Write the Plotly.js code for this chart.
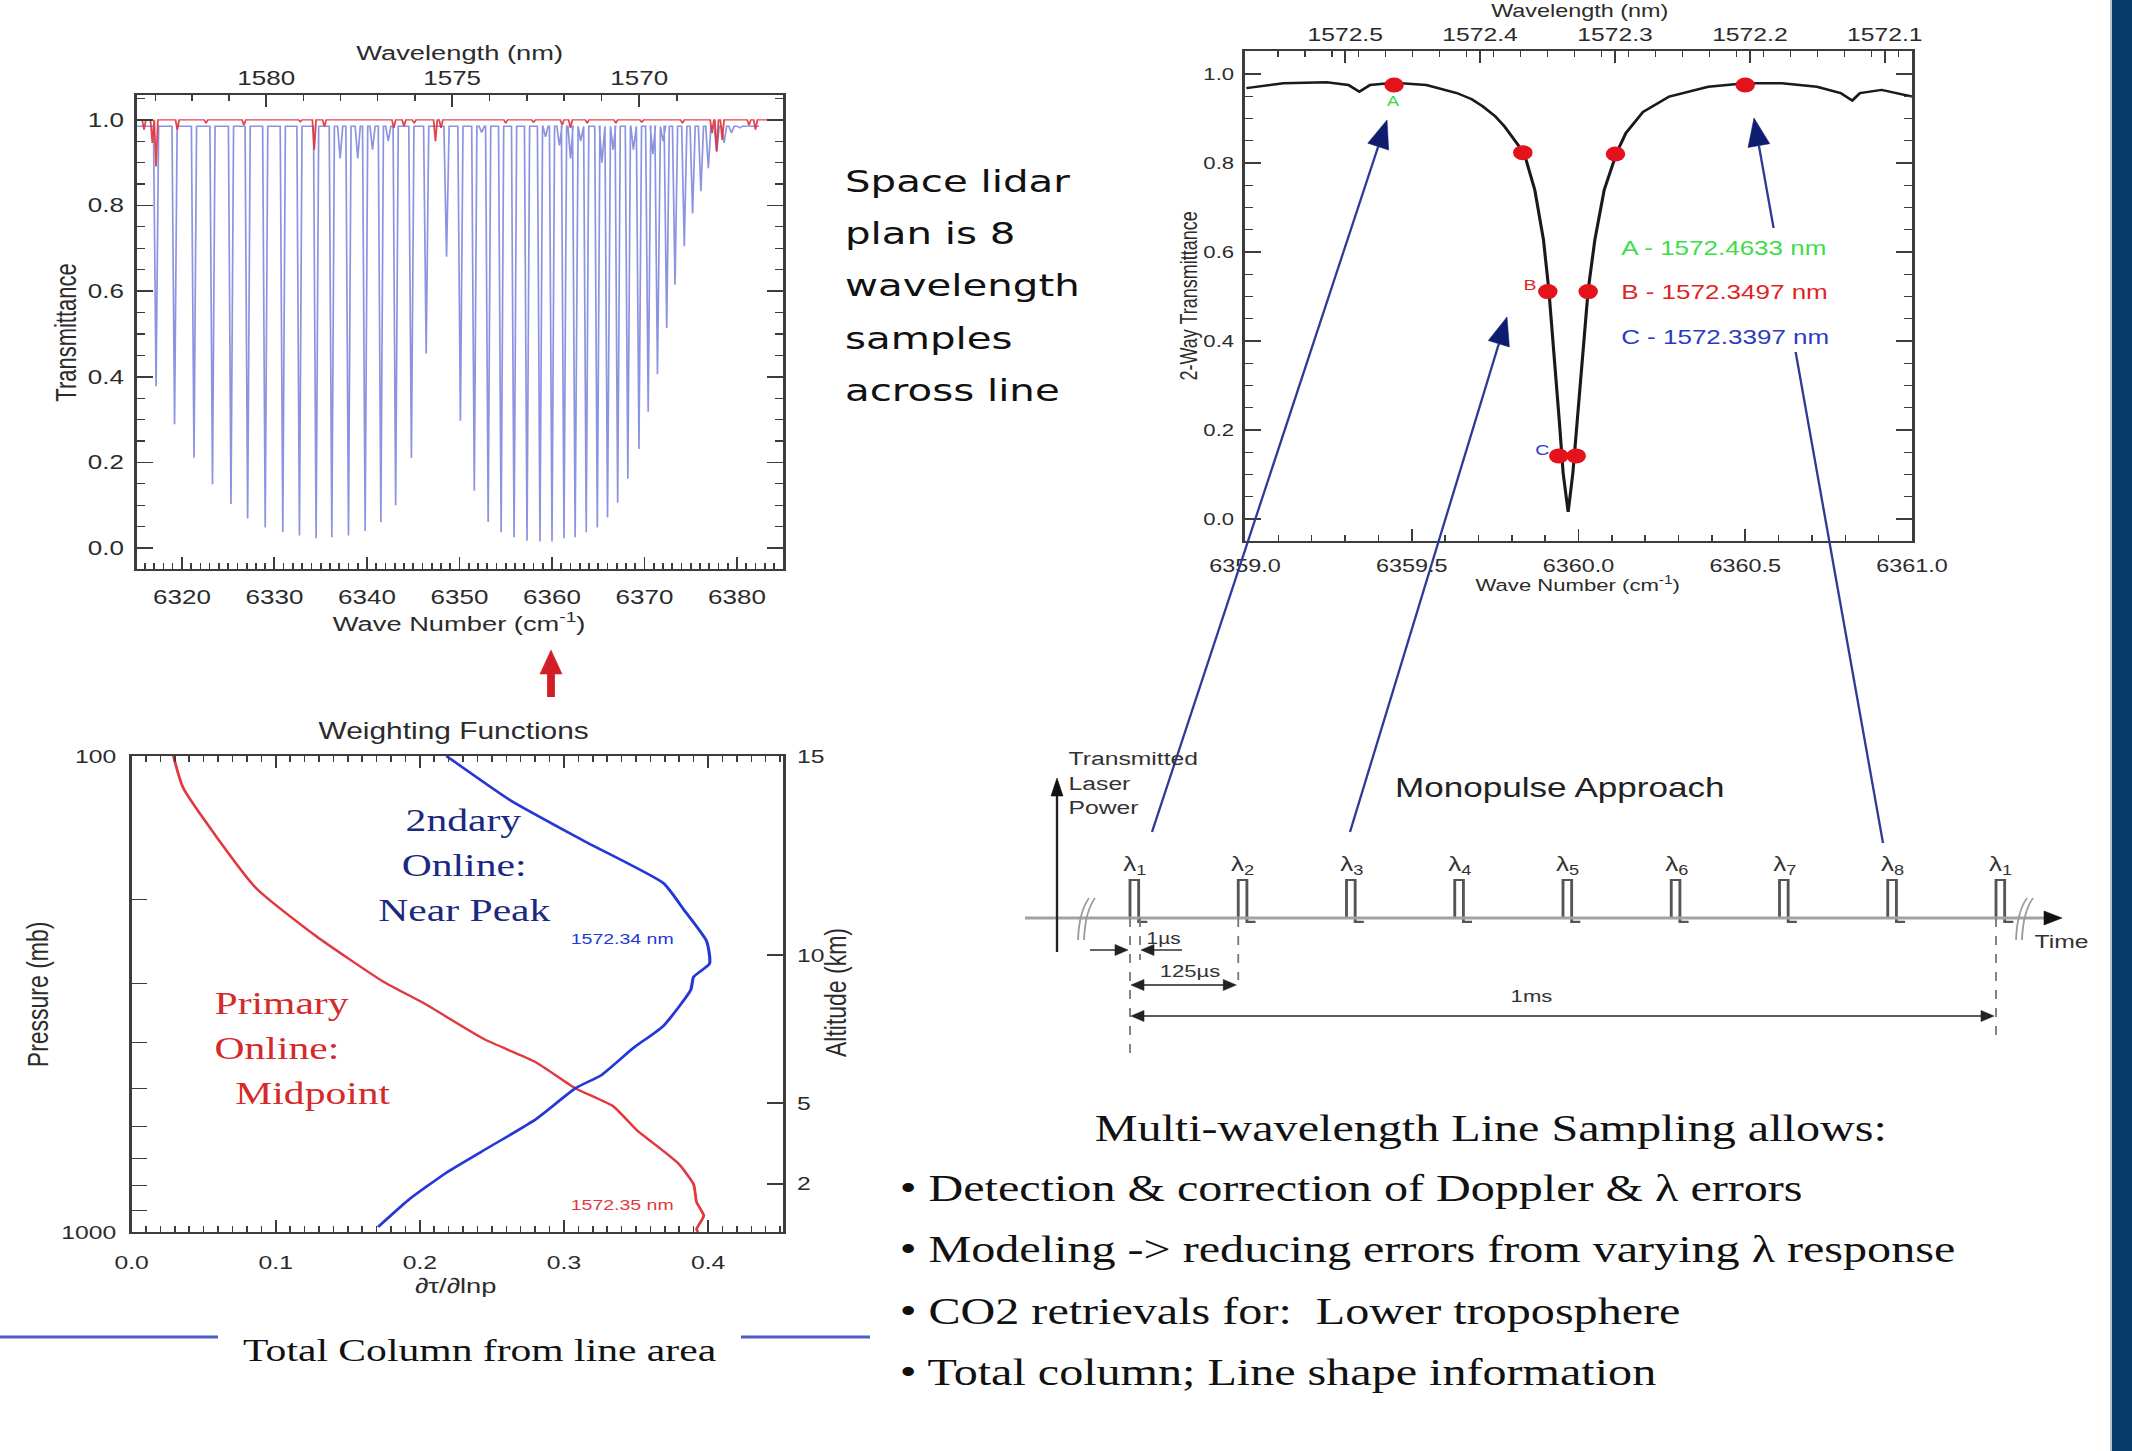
<!DOCTYPE html>
<html><head><meta charset="utf-8">
<script src="https://cdn.plot.ly/plotly-3.0.1.min.js"></script>
<style>
html,body{margin:0;padding:0;background:#fff;overflow:hidden;width:2132px;height:1451px;}
#wrap{position:absolute;left:0;top:0;width:1640px;height:1451px;transform:scaleX(1.3);transform-origin:0 0;}
#plot{width:1640px;height:1451px;}
</style></head>
<body><div id="wrap"><div id="plot"></div></div>
<script>
// ---------------- DATA ----------------
// Top-left: CO2 band transmittance (line centres in cm-1, line-centre transmittance)
const co2LineCenters = [6317.2, 6319.2, 6321.3, 6323.3, 6325.3, 6327.1, 6329.0, 6330.9, 6332.7, 6334.5,
  6336.2, 6338.0, 6339.8, 6341.5, 6343.1, 6344.8, 6346.4, 6348.6, 6350.1, 6351.6, 6353.1, 6354.5,
  6355.9, 6357.3, 6358.7, 6360.0, 6361.3, 6362.5, 6363.7, 6364.9, 6366.0, 6367.1, 6368.2, 6369.4,
  6370.4, 6371.4, 6372.4, 6373.3, 6374.3, 6375.2, 6376.1, 6376.9, 6377.8, 6378.6, 6379.4, 6380.3, 6381.2];
const co2LineMins = [0.378, 0.289, 0.211, 0.149, 0.103, 0.069, 0.048, 0.037, 0.029, 0.023,
  0.025, 0.029, 0.040, 0.060, 0.100, 0.210, 0.454, 0.680, 0.297, 0.134, 0.061, 0.037,
  0.025, 0.017, 0.015, 0.015, 0.023, 0.025, 0.037, 0.048, 0.071, 0.106, 0.162, 0.231,
  0.318, 0.406, 0.514, 0.615, 0.705, 0.781, 0.833, 0.887, 0.926, 0.946, 0.969, 0.981, 0.986];
const weakLineCenters = [6337.1, 6339.0, 6340.6, 6342.3, 6352.4, 6359.3, 6360.8, 6362.0, 6363.1, 6365.4, 6366.6, 6368.8, 6370.9, 6372.0];
const weakLineMins    = [0.91, 0.91, 0.93, 0.95, 0.97, 0.96, 0.94, 0.91, 0.95, 0.90, 0.93, 0.93, 0.92, 0.95];
const h2oLineCenters = [6315.9, 6316.8, 6317.2, 6319.5, 6322.6, 6326.7, 6332.8, 6334.3, 6335.4, 6342.9, 6344.0, 6345.1,
  6347.4, 6348.0, 6355.0, 6358.0, 6361.1, 6362.0, 6363.8, 6366.9, 6369.7, 6374.1, 6377.3, 6377.8, 6378.4, 6381.3, 6382.0];
const h2oLineMins = [0.977, 0.946, 0.891, 0.977, 0.992, 0.988, 0.996, 0.930, 0.984, 0.981, 0.985, 0.992,
  0.950, 0.981, 0.992, 0.994, 0.988, 0.981, 0.992, 0.992, 0.994, 0.992, 0.969, 0.926, 0.953, 0.988, 0.977];
const wideWavelengthTicks = [1580, 1575, 1570];

// Top-right: single line profile
const lineWn = [6359.004, 6359.115, 6359.245, 6359.310, 6359.343, 6359.375, 6359.447, 6359.544, 6359.635, 6359.680,
  6359.713, 6359.750, 6359.778, 6359.817, 6359.837, 6359.869, 6359.895, 6359.911, 6359.928, 6359.943, 6359.954, 6359.969,
  6359.983, 6359.996, 6360.012, 6360.029, 6360.049, 6360.077, 6360.114, 6360.142, 6360.194, 6360.272, 6360.389,
  6360.500, 6360.610, 6360.715, 6360.786, 6360.821, 6360.844, 6360.909, 6361.000];
const lineT = [0.968, 0.979, 0.981, 0.975, 0.960, 0.975, 0.980, 0.975, 0.957, 0.943,
  0.927, 0.905, 0.882, 0.844, 0.822, 0.739, 0.627, 0.515, 0.365, 0.215, 0.103, 0.016,
  0.103, 0.215, 0.365, 0.515, 0.627, 0.739, 0.822, 0.867, 0.915, 0.949, 0.971,
  0.979, 0.979, 0.971, 0.957, 0.940, 0.957, 0.964, 0.949];
const sampleWn = [6359.447, 6359.833, 6359.908, 6359.941, 6359.993, 6360.029, 6360.111, 6360.500];
const sampleT  = [0.975, 0.823, 0.511, 0.142, 0.142, 0.511, 0.820, 0.975];
const narrowWavelengthTicks = [1572.5, 1572.4, 1572.3, 1572.2, 1572.1];
const sampleNames = ['A', 'B', 'C'];
const sampleWavelengths = ['1572.4633', '1572.3497', '1572.3397'];

// Bottom-left: weighting functions
const primaryX = [0.029, 0.036, 0.086, 0.128, 0.174, 0.203, 0.245, 0.280, 0.308, 0.334, 0.351, 0.369, 0.380, 0.390, 0.392, 0.397, 0.392, 0.393];
const primaryP = [100, 117, 189, 239, 297, 331, 394, 439, 499, 544, 613, 676, 721, 794, 865, 924, 986, 1000];
const secondaryX = [0.2185, 0.263, 0.316, 0.369, 0.383, 0.399, 0.401, 0.390, 0.388, 0.369, 0.348, 0.326, 0.308, 0.280, 0.249, 0.218, 0.192, 0.171];
const secondaryP = [100, 124, 152, 185, 210, 245, 273, 291, 310, 369, 411, 468, 499, 581, 661, 752, 857, 976];
const pressureLabelled = [100, 1000];
const pressureMinor = [200, 300, 400, 500, 600, 700, 800, 900];
const altitudeKm = [15, 10, 5, 2];
const altitudePressure = [100, 262, 536, 792];

// Bottom-right: monopulse timing
const pulseTimesUs = [0, 125, 250, 375, 500, 625, 750, 875, 1000];
const pulseWavelengthIndex = [1, 2, 3, 4, 5, 6, 7, 8, 1];

const bulletHeading = 'Multi-wavelength Line Sampling allows:';
const bullets = ['Detection &amp; correction of Doppler &amp; λ errors',
  'Modeling -&gt; reducing errors from varying λ response',
  'CO2 retrievals for:  Lower troposphere',
  'Total column; Line shape information'];
const lidarNote = ['Space lidar', 'plan is 8', 'wavelength', 'samples', 'across line'];

// ---------------- GEOMETRY / STYLE ----------------
const W = 2132, H = 1451;
const X = px => px / W;
const Y = py => 1 - py / H;
const SANS = 'Liberation Sans, Arial, sans-serif';
const SERIF = 'Liberation Serif, Times New Roman, serif';
const COMIC = 'Comic Sans MS, DejaVu Sans, sans-serif';
const AXC = '#3c3c3c';
const TXT = '#2b2b2b';
const NAVY = '#2e3b95', NAVYHEAD = '#0f1d6e';

function ax(o) {
  const base = {showline: true, linecolor: AXC, linewidth: 2, ticks: 'inside', ticklen: 12, tickwidth: 1.5,
    tickcolor: AXC, showgrid: false, zeroline: false, fixedrange: true,
    tickfont: {family: SANS, size: 20, color: TXT}};
  return Object.assign(base, o);
}
function minor(o) { return Object.assign({ticks: 'inside', ticklen: 6, tickwidth: 1.2, tickcolor: AXC}, o); }

function buildSpectrum(centers, mins, base, halfW, x0, x1) {
  const pts = centers.map((c, i) => [c, mins[i]]).sort((a, b) => a[0] - b[0]);
  const xs = [x0], ys = [base];
  pts.forEach(([c, m]) => { xs.push(c - halfW, c, c + halfW); ys.push(base, m, base); });
  xs.push(x1); ys.push(base);
  return {xs, ys};
}

// ranges from calibration
const R1x = [6315.14, 6384.97], R1y = [-0.049, 1.058];
const R3x = [6359, 6361], R3y = [-0.048, 1.052];
const R5x = [0, 0.452];
// monopulse: t=0 at px 1130, t=1000 at px 1996 ; y 0 at py 918, 1 at py 880
const tpx = t => 1130 + t * 0.866;
const R7x = [-20, 1040], R7y = [-0.3, 1.1];
const ypx7 = v => 918 - v * 38;

const blue = buildSpectrum(co2LineCenters.concat(weakLineCenters), co2LineMins.concat(weakLineMins), 0.985, 0.28, R1x[0], 6382.4);
const red = buildSpectrum(h2oLineCenters, h2oLineMins, 1.0, 0.2, R1x[0], R1x[1]);

const PW = 10, FOOT = 10;
const pulseX = [], pulseY = [];
pulseTimesUs.forEach(t => { pulseX.push(t, t, t + PW, t + PW, t + PW + FOOT, null); pulseY.push(0, 1, 1, -0.1, -0.1, null); });

const traces = [
  {type: 'scatter', mode: 'lines', x: blue.xs, y: blue.ys, xaxis: 'x', yaxis: 'y',
   line: {color: 'rgba(95,105,212,0.72)', width: 1.3}, hoverinfo: 'skip'},
  {type: 'scatter', mode: 'lines', x: red.xs, y: red.ys, xaxis: 'x2', yaxis: 'y',
   line: {color: 'rgba(222,50,60,0.9)', width: 1.4}, hoverinfo: 'skip'},
  {type: 'scatter', mode: 'lines', x: lineWn, y: lineT, xaxis: 'x3', yaxis: 'y3',
   line: {color: '#1a1a1a', width: 2.4}, hoverinfo: 'skip'},
  {type: 'scatter', mode: 'markers', x: sampleWn, y: sampleT, xaxis: 'x4', yaxis: 'y3',
   marker: {color: '#e3121b', size: 15}, hoverinfo: 'skip'},
  {type: 'scatter', mode: 'lines', x: primaryX, y: primaryP, xaxis: 'x5', yaxis: 'y5',
   line: {color: '#e0393e', width: 2.2, shape: 'spline', smoothing: 0.5}, hoverinfo: 'skip'},
  {type: 'scatter', mode: 'lines', x: secondaryX, y: secondaryP, xaxis: 'x5', yaxis: 'y6',
   line: {color: '#2438d8', width: 2.4, shape: 'spline', smoothing: 0.5}, hoverinfo: 'skip'},
  {type: 'scatter', mode: 'lines', x: pulseX, y: pulseY, xaxis: 'x7', yaxis: 'y7',
   line: {color: '#555', width: 2.2}, hoverinfo: 'skip', connectgaps: false}
];

// tick helpers
const wideMinor = []; for (let l = 1569; l <= 1583; l++) wideMinor.push(1e7 / l);
const narrowMinor = []; for (let k = 0; k <= 25; k++) narrowMinor.push(1e7 / (1572.05 + k * 0.02));

const layout = {
  width: 1640, height: 1451, margin: {l: 0, r: 0, t: 0, b: 0},
  paper_bgcolor: '#fff', plot_bgcolor: 'rgba(0,0,0,0)', showlegend: false,
  xaxis: ax({domain: [X(137), X(783)], range: R1x, anchor: 'y', tick0: 6320, dtick: 10,
    minor: minor({dtick: 1}), ticklabelstandoff: 9}),
  xaxis2: ax({overlaying: 'x', side: 'top', anchor: 'y', range: R1x, tickmode: 'array',
    tickvals: wideWavelengthTicks.map(l => 1e7 / l), ticktext: wideWavelengthTicks.map(String),
    minor: minor({tickmode: 'array', tickvals: wideMinor}), ticklabelstandoff: 0}),
  yaxis: ax({domain: [Y(569), Y(95)], range: R1y, anchor: 'x', tick0: 0, dtick: 0.2, tickformat: '.1f',
    mirror: 'ticks', minor: minor({dtick: 0.05}), ticklabelstandoff: 4}),

  xaxis3: ax({domain: [X(1245), X(1912)], range: R3x, anchor: 'y3', tick0: 6359, dtick: 0.5, tickformat: '.1f',
    minor: minor({dtick: 0.1}), tickfont: {family: SANS, size: 18, color: TXT}, ticklabelstandoff: 8}),
  xaxis4: ax({overlaying: 'x3', side: 'top', anchor: 'y3', range: R3x, tickmode: 'array',
    tickvals: narrowWavelengthTicks.map(l => 1e7 / l), ticktext: narrowWavelengthTicks.map(l => l.toFixed(1)),
    minor: minor({tickmode: 'array', tickvals: narrowMinor}), tickfont: {family: SANS, size: 19, color: TXT}, ticklabelstandoff: 0}),
  yaxis3: ax({domain: [Y(540.5), Y(50.7)], range: R3y, anchor: 'x3', tick0: 0, dtick: 0.2, tickformat: '.1f',
    mirror: 'ticks', minor: minor({dtick: 0.05}), tickfont: {family: SANS, size: 17, color: TXT}, ticklabelstandoff: 3}),

  xaxis5: ax({domain: [X(131.6), X(783)], range: R5x, anchor: 'y5', tick0: 0, dtick: 0.1, tickformat: '.1f',
    mirror: 'ticks', minor: minor({dtick: 0.01}), tickfont: {family: SANS, size: 19, color: TXT}, ticklabelstandoff: 12}),
  yaxis5: ax({domain: [Y(1232), Y(756)], type: 'log', range: [3, 2], anchor: 'x5', tickmode: 'array',
    tickvals: pressureLabelled, ticktext: pressureLabelled.map(String),
    minor: minor({tickmode: 'array', tickvals: pressureMinor, ticklen: 12}),
    tickfont: {family: SANS, size: 19, color: TXT}, ticklabelstandoff: 6}),
  yaxis6: ax({overlaying: 'y5', side: 'right', anchor: 'x5', type: 'log', range: [3, 2], tickmode: 'array',
    tickvals: altitudePressure, ticktext: altitudeKm.map(String), tickfont: {family: SANS, size: 19, color: TXT}, ticklabelstandoff: 5}),

  xaxis7: {domain: [X(tpx(R7x[0])), X(tpx(R7x[1]))], range: R7x, anchor: 'y7', visible: false, fixedrange: true},
  yaxis7: {domain: [Y(ypx7(R7y[0])), Y(ypx7(R7y[1]))], range: R7y, anchor: 'x7', visible: false, fixedrange: true},
  shapes: [], annotations: []
};

// ---------------- SHAPES ----------------
const S = layout.shapes;
function line(x0, y0, x1, y1, color, width, dash) {
  return {type: 'line', xref: 'paper', yref: 'paper', x0: X(x0), y0: Y(y0), x1: X(x1), y1: Y(y1),
    line: {color, width, dash: dash || 'solid'}, layer: 'above'};
}
function rect(x0, y0, x1, y1, fill) {
  return {type: 'rect', xref: 'paper', yref: 'paper', x0: X(x0), y0: Y(y1), x1: X(x1), y1: Y(y0),
    fillcolor: fill, line: {width: 0}, layer: 'above'};
}
function headPts(tx, ty, fx, fy, len, half) {
  const dx = tx - fx, dy = ty - fy, L = Math.hypot(dx, dy), ux = dx / L, uy = dy / L;
  const bx = tx - ux * len, by = ty - uy * len, nx = -uy, ny = ux;
  return {bx, by, path: `M ${X(tx)} ${Y(ty)} L ${X(bx + nx * half)} ${Y(by + ny * half)} L ${X(bx - nx * half)} ${Y(by - ny * half)} Z`};
}
function head(tx, ty, fx, fy, len, half, color) {
  const h = headPts(tx, ty, fx, fy, len, half);
  return {type: 'path', xref: 'paper', yref: 'paper', path: h.path, fillcolor: color, line: {color, width: 0.5}, layer: 'above'};
}
function arrow(fx, fy, tx, ty, color, width, len, half, hcolor) {
  const h = headPts(tx, ty, fx, fy, len, half);
  S.push(line(fx, fy, h.bx, h.by, color, width));
  S.push(head(tx, ty, fx, fy, len, half, hcolor || color));
}
function dbl(x0, x1, y, color) {
  S.push(line(x0 + 10, y, x1 - 10, y, color, 1.4));
  S.push(head(x0, y, x1, y, 13, 5.5, color));
  S.push(head(x1, y, x0, y, 13, 5.5, color));
}

// right-edge dark bar
S.push(rect(2112, 0, 2132, 1451, '#073b69'));
S.push(line(2111, 0, 2111, 1451, '#b8c2cc', 1.5));
// total column rules
S.push(line(0, 1337, 218, 1337, '#4b5cc4', 3));
S.push(line(741, 1337, 870, 1337, '#4b5cc4', 3));
// red arrow under top-left plot
arrow(551, 697, 551, 650, '#d21f26', 6, 24, 11);

// long navy arrows (lines first, then white legend box, then heads)
const A1 = {f: [1152, 832], t: [1387, 120]};
const A2 = {f: [1350, 832], t: [1507, 317]};
const A3 = {f: [1883, 843], t: [1754, 118]};
[A1, A2, A3].forEach(a => {
  const h = headPts(a.t[0], a.t[1], a.f[0], a.f[1], 28, 11);
  S.push(line(a.f[0], a.f[1], h.bx, h.by, NAVY, 1.8));
});
S.push(rect(1612, 228, 1852, 352, '#ffffff'));
[A1, A2, A3].forEach(a => S.push(head(a.t[0], a.t[1], a.f[0], a.f[1], 28, 11, NAVYHEAD)));

// monopulse axes
S.push(line(1025, 918, 2050, 918, '#a2a2a2', 3.2));
S.push(head(2062, 918, 2040, 918, 18, 7, '#111'));
S.push(line(1057, 952, 1057, 796, '#222', 1.8));
S.push(head(1057, 778, 1057, 800, 18, 6, '#111'));
// break marks
[1078, 2016].forEach(a => {
  [0, 6].forEach(o => S.push({type: 'path', xref: 'paper', yref: 'paper', layer: 'above',
    path: `M ${X(a + o)} ${Y(940)} Q ${X(a + o + 1)} ${Y(912)} ${X(a + o + 11)} ${Y(898)}`, line: {color: '#9a9a9a', width: 1.4}}));
});
// dashed guides
S.push(line(tpx(0), 918, tpx(0), 1055, '#777', 1.4, 'dash'));
S.push(line(tpx(0) + 10, 918, tpx(0) + 10, 960, '#777', 1.4, 'dash'));
S.push(line(tpx(125), 918, tpx(125), 980, '#777', 1.4, 'dash'));
S.push(line(tpx(1000), 918, tpx(1000), 1035, '#777', 1.4, 'dash'));
// dimension arrows
arrow(1090, 950, 1128, 950, '#222', 1.4, 13, 5.5);
arrow(1182, 950, 1141, 950, '#222', 1.4, 13, 5.5);
dbl(tpx(0) + 1, tpx(125) - 2, 985, '#222');
dbl(tpx(0) + 1, tpx(1000) - 2, 1016, '#222');

// ---------------- ANNOTATIONS ----------------
const A = layout.annotations;
function T(text, px, py, size, color, family, o) {
  A.push(Object.assign({xref: 'paper', yref: 'paper', x: X(px), y: Y(py), text, showarrow: false,
    xanchor: 'center', yanchor: 'middle', font: {family: family || SANS, size, color}}, o || {}));
}
// top-left titles
T('Wavelength (nm)', 459, 53, 21, TXT);
T('Wave Number (cm<sup>-1</sup>)', 459, 622, 21, TXT);
T('Transmittance', 66, 332, 22, TXT, SANS, {textangle: -90});
// top-right titles
T('Wavelength (nm)', 1579, 11, 18, TXT);
T('Wave Number (cm<sup>-1</sup>)', 1578, 584, 17, TXT);
T('2-Way Transmittance', 1189, 296, 18, TXT, SANS, {textangle: -90});
// sample point letters
T('A', 1394, 101, 14, '#38d84a');
T('B', 1530, 285, 15, '#e02424');
T('C', 1543, 449, 15, '#2b3bc0');
const legendColors = ['#3ddc4a', '#e02424', '#2b3bc0'];
const legendY = [248, 292, 337];
sampleNames.forEach((n, i) => T(n + ' - ' + sampleWavelengths[i] + ' nm', 1619, legendY[i], 20, legendColors[i], SANS, {xanchor: 'left'}));
// lidar note
lidarNote.forEach((s, i) => T(s, 843, 181 + i * 52.2, 31, '#111', COMIC, {xanchor: 'left'}));
// weighting functions
T('Weighting Functions', 454, 731, 23, TXT);
T('Pressure (mb)', 38, 994, 23, TXT, SANS, {textangle: -90});
T('Altitude (km)', 836, 993, 23, TXT, SANS, {textangle: -90});
T('∂τ/∂lnp', 456, 1285, 21, TXT);
T('1572.34 nm', 622, 939, 15, '#2438d8');
T('1572.35 nm', 622, 1204, 15, '#e0393e');
['2ndary', 'Online:', 'Near Peak'].forEach((s, i) => T(s, 464, 820 + i * 45, 32, '#1b2a80', SERIF));
['Primary', 'Online:', ' Midpoint'].forEach((s, i) => T(s, i === 2 ? 222 : 212, 1003 + i * 45, 32, '#d42a2a', SERIF, {xanchor: 'left'}));
T('Total Column from line area', 480, 1350, 32, '#111', SERIF);
// monopulse
T('Transmitted<br>Laser<br>Power', 1066, 783, 19, '#333', SANS, {xanchor: 'left', align: 'left'});
T('Monopulse Approach', 1560, 788, 27, '#222');
pulseTimesUs.forEach((t, i) => A.push({xref: 'x7', yref: 'paper', x: t + PW / 2 + 1, y: Y(865), showarrow: false,
  text: 'λ<sub>' + pulseWavelengthIndex[i] + '</sub>', xanchor: 'center', yanchor: 'middle',
  font: {family: SANS, size: 20, color: '#333'}}));
T('Time', 2062, 941, 19, '#333');
T('1µs', 1164, 939, 16, '#333');
T('125µs', 1190, 971, 17, '#333');
T('1ms', 1531, 997, 17, '#333');
// bullets
T(bulletHeading, 1490, 1128, 37, '#111', SERIF);
bullets.forEach((b, i) => T('• ' + b, 897, 1188 + i * 61.5, 37, '#111', SERIF, {xanchor: 'left'}));

Plotly.newPlot('plot', traces, layout, {staticPlot: true, displayModeBar: false});
</script></body></html>
